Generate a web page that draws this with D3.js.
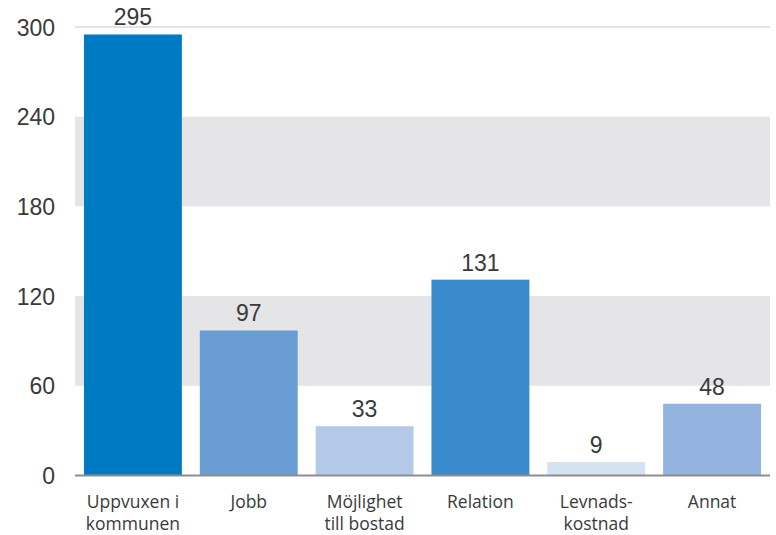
<!DOCTYPE html>
<html><head><meta charset="utf-8">
<script src="https://cdn.jsdelivr.net/npm/d3@7"></script>
<style>body{margin:0;background:#fff}svg{display:block}</style>
</head><body>
<svg id="c" width="776" height="535"></svg>
<script>
const categories = [["Uppvuxen i","kommunen"],["Jobb"],["Möjlighet","till bostad"],["Relation"],["Levnads-","kostnad"],["Annat"]];
const values = [295, 97, 33, 131, 9, 48];
const colors = ["#007ac2","#699dd4","#b4c9e8","#398bcb","#d5e2f2","#93b4df"];
const yTicks = [0, 60, 120, 180, 240, 300];
const bands = [[180,240],[60,120]];

const svg = d3.select("#c");
const x = d3.scaleBand().domain(d3.range(values.length)).range([75, 770]).paddingInner(0.155).paddingOuter(0.0775);
const y = d3.scaleLinear().domain([0, 300]).range([475.5, 27]);

svg.selectAll("rect.band").data(bands).join("rect")
  .attr("x", 75).attr("width", 695)
  .attr("y", d => y(d[1])).attr("height", d => y(d[0]) - y(d[1]))
  .attr("fill", "#e5e5e8");

svg.append("line").attr("x1", 75).attr("x2", 770).attr("y1", y(300)).attr("y2", y(300))
  .attr("stroke", "#e3e3e5").attr("stroke-width", 2);

svg.selectAll("rect.bar").data(values).join("rect")
  .attr("x", (d,i) => x(i)).attr("width", x.bandwidth())
  .attr("y", d => y(d)).attr("height", d => y(0) - y(d))
  .attr("fill", (d,i) => colors[i]);

svg.append("line").attr("x1", 75).attr("x2", 770).attr("y1", y(0)).attr("y2", y(0))
  .attr("stroke", "#8d8d91").attr("stroke-width", 2);

const yAxis = d3.axisLeft(y).tickValues(yTicks).tickSize(0).tickPadding(0);
const ga = svg.append("g").attr("transform", "translate(55,0)").call(yAxis);
ga.select(".domain").remove();
ga.selectAll("text").attr("font-family", "Liberation Sans, Arial, sans-serif").attr("font-size", 23).attr("fill", "#3a3a3a").attr("dy", "0.35em");

svg.selectAll("text.val").data(values).join("text")
  .attr("x", (d,i) => x(i) + x.bandwidth()/2).attr("y", d => y(d) - 9)
  .attr("text-anchor", "middle").attr("font-family", "Liberation Sans, Arial, sans-serif")
  .attr("font-size", 23).attr("fill", "#3a3a3a").text(d => d);

const cl = svg.selectAll("text.cat").data(categories).join("text")
  .attr("text-anchor", "middle").attr("font-family", "Open Sans, sans-serif")
  .attr("font-size", 17.5).attr("fill", "#3a3a3a")
  .attr("transform", (d,i) => `translate(${x(i) + x.bandwidth()/2},508)`);
cl.selectAll("tspan").data(d => d).join("tspan")
  .attr("x", 0).attr("y", (d,j) => j*22).text(d => d);
</script>
</body></html>
